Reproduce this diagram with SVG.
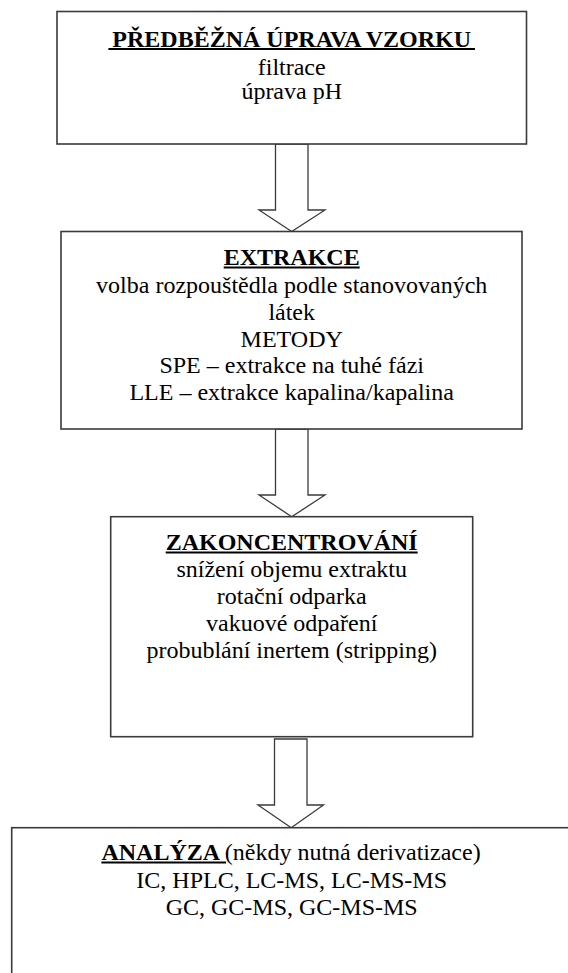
<svg xmlns="http://www.w3.org/2000/svg" width="568" height="973" viewBox="0 0 568 973">
<style>
.box{fill:#fff;stroke:#3a3a3a;stroke-width:1.6}
.arr{fill:#fff;stroke:#3a3a3a;stroke-width:1.3;stroke-linejoin:miter}
text{font-family:"Liberation Serif","Times New Roman",serif;font-size:24px;fill:#000}
.c{text-anchor:middle}
.b{font-weight:bold}
.ul{stroke:#000;stroke-width:1.8}
</style>
<rect width="568" height="973" fill="#fff"/>
<g id="connectors">
<path class="arr" d="M275.5,144 V210 H259 L291.7,231.5 L325,210 H308 V144 Z"/>
<path class="arr" d="M275.5,429 V495 H259 L291.7,516.7 L325,495 H308 V429 Z"/>
<path class="arr" d="M274.5,739 V805 H258 L291.2,827.7 L323.5,805 H307 V739 Z"/>
</g>
<g id="node-preprava">
<rect class="box" x="57" y="11.5" width="469.5" height="132.5"/>
<text class="c b" x="291.7" y="46.5">PŘEDBĚŽNÁ ÚPRAVA VZORKU</text>
<line class="ul" x1="108.4" y1="49" x2="475" y2="49"/>
<text class="c" x="291.7" y="74.5">filtrace</text>
<text class="c" x="291.7" y="99">úprava pH</text>
</g>
<g id="node-extrakce">
<rect class="box" x="61" y="231.5" width="461" height="197.5"/>
<text class="c b" x="291.7" y="265">EXTRAKCE</text>
<line class="ul" x1="223.7" y1="267.5" x2="359.7" y2="267.5"/>
<text class="c" x="291.7" y="292.5">volba rozpouštědla podle stanovovaných</text>
<text class="c" x="291.7" y="319.5">látek</text>
<text class="c" x="291.7" y="346.5">METODY</text>
<text class="c" x="291.7" y="373">SPE – extrakce na tuhé fázi</text>
<text class="c" x="291.7" y="400">LLE – extrakce kapalina/kapalina</text>
</g>
<g id="node-zakoncentrovani">
<rect class="box" x="110.7" y="516.7" width="362" height="220"/>
<text class="c b" x="291.7" y="550">ZAKONCENTROVÁNÍ</text>
<line class="ul" x1="165.7" y1="552.5" x2="417.7" y2="552.5"/>
<text class="c" x="291.7" y="577">snížení objemu extraktu</text>
<text class="c" x="291.7" y="604">rotační odparka</text>
<text class="c" x="291.7" y="631">vakuové odpaření</text>
<text class="c" x="291.7" y="658">probublání inertem (stripping)</text>
</g>
<g id="node-analyza">
<rect class="box" x="11.7" y="827.7" width="570" height="170"/>
<text x="101.4" y="860"><tspan class="b">ANALÝZA </tspan><tspan>(někdy nutná derivatizace)</tspan></text>
<line class="ul" x1="101.4" y1="862.5" x2="226.1" y2="862.5"/>
<text class="c" x="291.7" y="887.5">IC, HPLC, LC-MS, LC-MS-MS</text>
<text class="c" x="291.7" y="914.5">GC, GC-MS, GC-MS-MS</text>
</g>
</svg>
